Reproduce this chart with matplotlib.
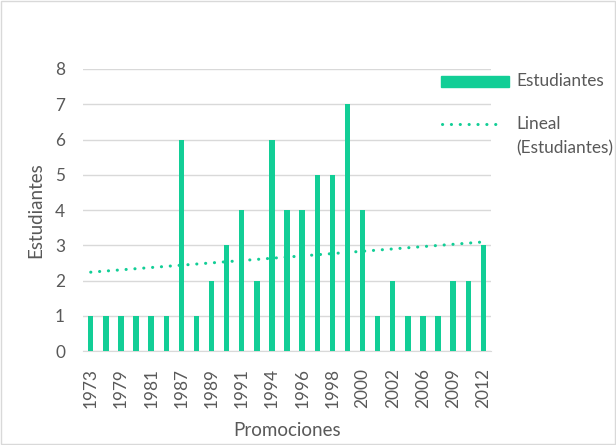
import numpy as np
import matplotlib.pyplot as plt
from matplotlib.patches import Rectangle
from matplotlib.lines import Line2D

# promociones (solo se rotulan una de cada dos)
years = ['1973', '1975', '1979', '1980', '1981', '1985', '1987', '1988', '1989',
         '1990', '1991', '1993', '1994', '1995', '1996', '1997', '1998', '1999',
         '2000', '2001', '2002', '2004', '2006', '2008', '2009', '2010', '2012']
students = [1, 1, 1, 1, 1, 1, 6, 1, 2, 3, 4, 2, 6, 4, 4, 5, 5, 7, 4, 1, 2, 1, 1, 1, 2, 2, 3]

green = '#12CE96'
grey_txt = '#595959'
grid_c = '#D9D9D9'
dots = (0, (0.05, 2.85))
plt.rcParams['font.family'] = ['Lato', 'DejaVu Sans']

fig = plt.figure(figsize=(6.16, 4.45), dpi=100)
ax = fig.add_axes([0.135, 0.211, 0.662, 0.634])

x = np.arange(len(students))
ax.bar(x, students, width=0.36, color=green, zorder=3)

# linea de tendencia lineal (como Excel)
m, b = np.polyfit(x + 1, students, 1)
ax.plot(x, m * (x + 1) + b, color=green, lw=2.2, linestyle=dots,
        dash_capstyle='round', zorder=4)

ax.set_xlim(-0.5, len(students) - 0.5)
ax.set_ylim(0, 8)
ax.set_yticks(range(0, 9))
ax.set_xticks(x[::2])
ax.set_xticklabels(years[::2], rotation=90)
ax.grid(axis='y', color=grid_c, lw=1, zorder=0)
for s in ['top', 'right', 'left']:
    ax.spines[s].set_visible(False)
ax.spines['bottom'].set_color(grid_c)
ax.tick_params(length=0, colors=grey_txt, labelsize=12.4)
ax.tick_params(axis='x', pad=12)
ax.tick_params(axis='y', pad=13)
ax.set_xlabel('Promociones', color=grey_txt, fontsize=13.5, labelpad=10)
ax.set_ylabel('Estudiantes', color=grey_txt, fontsize=13.5, labelpad=8)

# leyenda a la derecha, dibujada a mano
fig.add_artist(Rectangle((0.716, 0.8045), 0.110, 0.0247, transform=fig.transFigure,
                         color=green))
fig.add_artist(Line2D([0.718, 0.818], [0.7213, 0.7213], transform=fig.transFigure,
                      color=green, lw=2.2, linestyle=dots, dash_capstyle='round'))
fig.text(0.838, 0.817, 'Estudiantes', color=grey_txt, fontsize=12.4, va='center')
fig.text(0.838, 0.7213, 'Lineal', color=grey_txt, fontsize=12.4, va='center')
fig.text(0.838, 0.6674, '(Estudiantes)', color=grey_txt, fontsize=12.4, va='center')

fig.add_artist(Rectangle((0.002, 0.002), 0.996, 0.996, transform=fig.transFigure,
                         fill=False, edgecolor=grid_c, lw=1))

fig.savefig('out.png', dpi=100)
